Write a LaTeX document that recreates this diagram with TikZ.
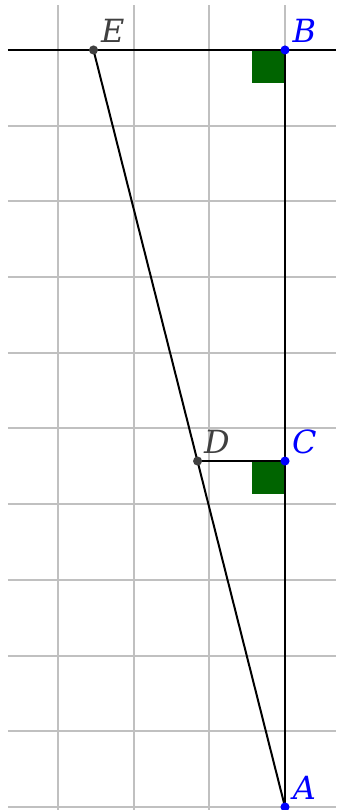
\documentclass[tikz,border=0pt]{standalone}
\usepackage{fontspec}
\setmainfont{DejaVu Serif}

\definecolor{ptblue}{RGB}{0,0,255}
\definecolor{ptgray}{RGB}{64,64,64}
\definecolor{rightgreen}{RGB}{0,100,0}
\definecolor{gridgray}{RGB}{192,192,192}

\begin{document}
\begin{tikzpicture}[
				line width = 0.75pt, % line style
				node distance = 0.36cm, % distance between a point and its label
				font=\fontsize{12}{14}\selectfont\itshape
				]
				
				\tikzstyle{point}=[
				circle,
				inner sep = 0pt,
				minimum size = 0.12cm,
				fill = ptblue
				]
				\tikzstyle{free point}=[point, fill = ptgray]
				\tikzstyle{point label}=[text = ptblue]
				\tikzstyle{free label}=[text = ptgray]
				\tikzstyle{right mark}=[fill = rightgreen]
				
				\useasboundingbox (-3.765,-10.04) rectangle (0.674,0.66);
				\draw[gridgray] (-3.66,-10.04) grid (0.674,0.594);
				
				\coordinate (B) at (0,0);
				\coordinate (C) at (0,-5.43);
				\coordinate (A) at (0,-10);
				\coordinate (E) at (-2.53,0);
				\coordinate (D) at (-1.155,-5.43);
				\coordinate (west end) at (-3.66,0);
				\coordinate (east end) at (0.674,0);
				
				% right angles at B and C
				\fill[right mark] (B) rectangle ++(-0.43,-0.43);
				\fill[right mark] (C) rectangle ++(-0.43,-0.43);
				
				\path[draw]
				(west end) edge [] (east end)
				(A) 	edge [] (B)
						edge [] (E)
				(D) 	edge [] (C)
				;
				
				\node[point] (dot B) at (B) {};
				\node[point] (dot C) at (C) {};
				\node[point] (dot A) at (A) {};
				\node[free point] (dot E) at (E) {};
				\node[free point] (dot D) at (D) {};
				
				\node[point label] (label B) [above right of=dot B] {B};
				\node[point label] (label C) [above right of=dot C] {C};
				\node[point label] (label A) [above right of=dot A] {A};
				\node[free label] (label E) [above right of=dot E] {E};
				\node[free label] (label D) [above right of=dot D] {D};
			\end{tikzpicture}
\end{document}
